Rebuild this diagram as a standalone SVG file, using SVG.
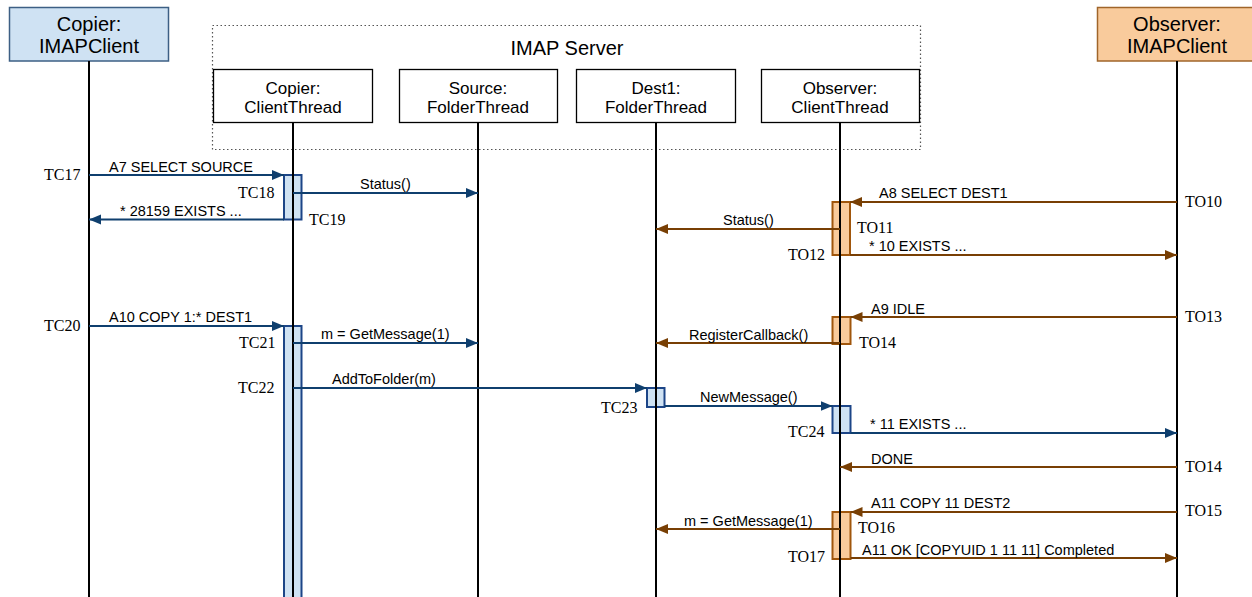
<svg xmlns="http://www.w3.org/2000/svg" width="1252" height="597" viewBox="0 0 1252 597">
  <style>
    .hdr { font-family: "Liberation Sans", Arial, sans-serif; font-size: 20px; fill: #000; text-anchor: middle; }
    .thr { font-family: "Liberation Sans", Arial, sans-serif; font-size: 17px; fill: #000; text-anchor: middle; }
    .msg { font-family: "Liberation Sans", Arial, sans-serif; font-size: 14.5px; fill: #000; }
    .tm  { font-family: "Liberation Serif", "Times New Roman", serif; font-size: 16px; fill: #000; }
    .life { stroke: #000; stroke-width: 2; }
    .box { fill: #fff; stroke: #000; stroke-width: 1.3; }
    .actB { fill: #cfe2f3; stroke: #1c4587; stroke-width: 2; }
    .actO { fill: #f9cb9c; stroke: #a0560c; stroke-width: 2; }
    .mB { stroke: #0f3f6e; stroke-width: 2; fill: none; marker-end: url(#ahB); }
    .mO { stroke: #783f04; stroke-width: 2; fill: none; marker-end: url(#ahO); }
  </style>
  <defs>
    <marker id="ahB" markerUnits="userSpaceOnUse" markerWidth="13" markerHeight="11" refX="12" refY="5" orient="auto">
      <path d="M0,0 L12,5 L0,10 z" fill="#0f3f6e"/>
    </marker>
    <marker id="ahO" markerUnits="userSpaceOnUse" markerWidth="13" markerHeight="11" refX="12" refY="5" orient="auto">
      <path d="M0,0 L12,5 L0,10 z" fill="#783f04"/>
    </marker>
  </defs>

  <rect width="1252" height="597" fill="#fff"/>

  <!-- server boundary -->
  <g id="imap-server">
    <rect x="212.5" y="25.5" width="708" height="124" fill="none" stroke="#555" stroke-width="1.2" stroke-dasharray="1.5,2.5"/>
    <text class="hdr" x="567" y="55">IMAP Server</text>
  </g>

  <!-- activation bars -->
  <g id="activations">
    <rect class="actB" x="284" y="175" width="17.5" height="44.5"/>
    <rect class="actB" x="284" y="326" width="17.5" height="275"/>
    <rect class="actB" x="647" y="388" width="17.5" height="19"/>
    <rect class="actB" x="832.5" y="406" width="18" height="27"/>
    <rect class="actO" x="832.5" y="202" width="17.5" height="53"/>
    <rect class="actO" x="832.5" y="317" width="18" height="27"/>
    <rect class="actO" x="832.5" y="512" width="18" height="47"/>
  </g>

  <g id="copier-client">
    <rect x="9.5" y="7.5" width="159" height="53.5" fill="#cfe2f3" stroke="#3d5f84" stroke-width="1.5"/>
    <text class="hdr" x="89" y="31">Copier:</text>
    <text class="hdr" x="89" y="53">IMAPClient</text>
    <line class="life" x1="89" y1="61" x2="89" y2="597"/>
  </g>

  <g id="copier-thread">
    <rect class="box" x="213.5" y="69.5" width="159" height="53"/>
    <text class="thr" x="293" y="94">Copier:</text>
    <text class="thr" x="293" y="113">ClientThread</text>
    <line class="life" x1="293" y1="123" x2="293" y2="597"/>
  </g>

  <g id="source-folder">
    <rect class="box" x="399.5" y="69.5" width="158" height="53"/>
    <text class="thr" x="478" y="94">Source:</text>
    <text class="thr" x="478" y="113">FolderThread</text>
    <line class="life" x1="478" y1="123" x2="478" y2="597"/>
  </g>

  <g id="dest1-folder">
    <rect class="box" x="576.5" y="69.5" width="159" height="53"/>
    <text class="thr" x="656" y="94">Dest1:</text>
    <text class="thr" x="656" y="113">FolderThread</text>
    <line class="life" x1="656" y1="123" x2="656" y2="597"/>
  </g>

  <g id="observer-thread">
    <rect class="box" x="761.5" y="69.5" width="158" height="53"/>
    <text class="thr" x="840" y="94">Observer:</text>
    <text class="thr" x="840" y="113">ClientThread</text>
    <line class="life" x1="840" y1="123" x2="840" y2="597"/>
  </g>

  <g id="observer-client">
    <rect x="1097.5" y="7.5" width="160" height="53.5" fill="#f9cb9c" stroke="#a0652a" stroke-width="1.5"/>
    <text class="hdr" x="1177" y="31">Observer:</text>
    <text class="hdr" x="1177" y="53">IMAPClient</text>
    <line class="life" x1="1177" y1="61" x2="1177" y2="597"/>
  </g>

  <!-- messages -->
  <g id="connectors">
    <!-- copier session -->
    <line class="mB" x1="89" y1="175" x2="284" y2="175"/>
    <text class="msg" x="109" y="172">A7 SELECT SOURCE</text>
    <line class="mB" x1="293" y1="193" x2="478" y2="193"/>
    <text class="msg" x="360" y="189">Status()</text>
    <line class="mB" x1="284" y1="219.5" x2="89" y2="219.5"/>
    <text class="msg" x="120" y="216">* 28159 EXISTS ...</text>

    <line class="mB" x1="89" y1="326" x2="284" y2="326"/>
    <text class="msg" x="109" y="322">A10 COPY 1:* DEST1</text>
    <line class="mB" x1="293" y1="343" x2="478" y2="343"/>
    <text class="msg" x="321" y="339">m = GetMessage(1)</text>
    <line class="mB" x1="293" y1="388" x2="647" y2="388"/>
    <text class="msg" x="332" y="384">AddToFolder(m)</text>
    <line class="mB" x1="664.5" y1="406" x2="832.5" y2="406"/>
    <text class="msg" x="700" y="402">NewMessage()</text>
    <line class="mB" x1="850.5" y1="433" x2="1177" y2="433"/>
    <text class="msg" x="870" y="429">* 11 EXISTS ...</text>

    <!-- observer session -->
    <line class="mO" x1="1177" y1="202" x2="850" y2="202"/>
    <text class="msg" x="879" y="198">A8 SELECT DEST1</text>
    <line class="mO" x1="840" y1="229" x2="656" y2="229"/>
    <text class="msg" x="723" y="225">Status()</text>
    <line class="mO" x1="850" y1="255" x2="1177" y2="255"/>
    <text class="msg" x="869" y="251">* 10 EXISTS ...</text>

    <line class="mO" x1="1177" y1="317" x2="850.5" y2="317"/>
    <text class="msg" x="871" y="314">A9 IDLE</text>
    <line class="mO" x1="840" y1="343" x2="656" y2="343"/>
    <text class="msg" x="689" y="340">RegisterCallback()</text>

    <line class="mO" x1="1177" y1="467" x2="840" y2="467"/>
    <text class="msg" x="871" y="464">DONE</text>
    <line class="mO" x1="1177" y1="512" x2="850.5" y2="512"/>
    <text class="msg" x="871" y="508">A11 COPY 11 DEST2</text>
    <line class="mO" x1="840" y1="529" x2="656" y2="529"/>
    <text class="msg" x="684" y="526">m = GetMessage(1)</text>
    <line class="mO" x1="850.5" y1="558" x2="1177" y2="558"/>
    <text class="msg" x="862" y="555">A11 OK [COPYUID 1 11 11] Completed</text>
  </g>

  <!-- time marks -->
  <g id="time-marks">
    <text class="tm" x="44" y="180">TC17</text>
    <text class="tm" x="238" y="198">TC18</text>
    <text class="tm" x="309" y="225">TC19</text>
    <text class="tm" x="44" y="331">TC20</text>
    <text class="tm" x="239" y="348">TC21</text>
    <text class="tm" x="238" y="393">TC22</text>
    <text class="tm" x="601" y="413">TC23</text>
    <text class="tm" x="788" y="437">TC24</text>
    <text class="tm" x="1185" y="207">TO10</text>
    <text class="tm" x="857" y="233">TO11</text>
    <text class="tm" x="788" y="260">TO12</text>
    <text class="tm" x="1185" y="322">TO13</text>
    <text class="tm" x="859" y="348">TO14</text>
    <text class="tm" x="1185" y="472">TO14</text>
    <text class="tm" x="1185" y="516">TO15</text>
    <text class="tm" x="858" y="533">TO16</text>
    <text class="tm" x="788" y="562">TO17</text>
  </g>
</svg>
